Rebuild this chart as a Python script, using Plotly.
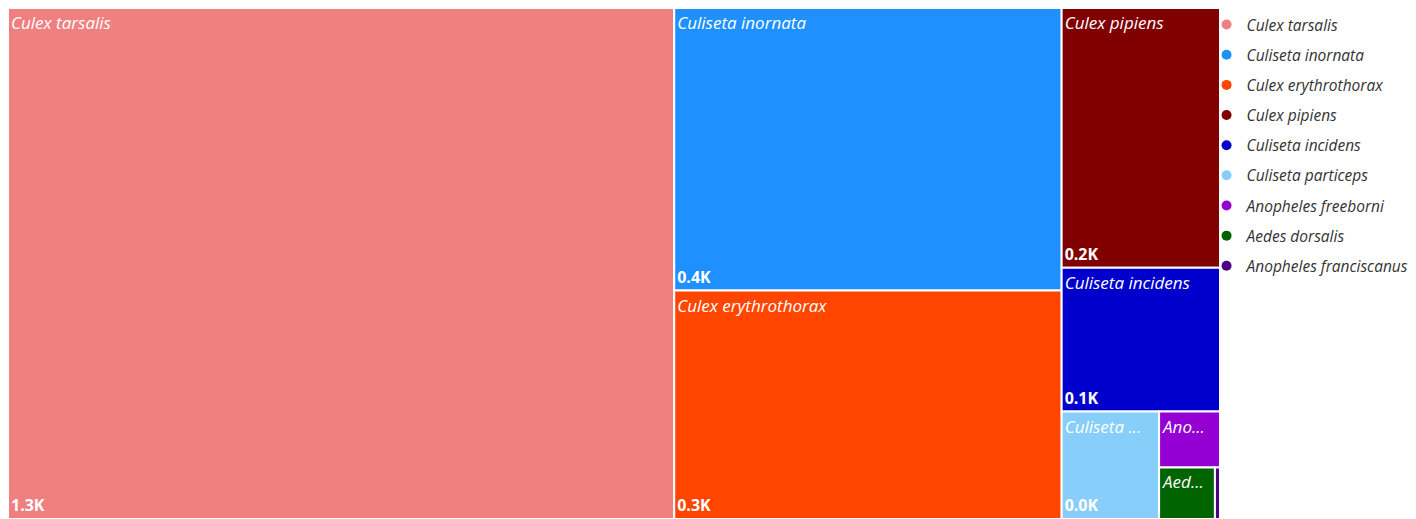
import plotly.graph_objects as go

species = ["Culex tarsalis", "Culiseta inornata", "Culex erythrothorax", "Culex pipiens",
           "Culiseta incidens", "Culiseta particeps", "Anopheles freeborni", "Aedes dorsalis",
           "Anopheles franciscanus"]
counts = [1300, 418, 338, 157, 87, 40, 13, 11, 1]
display_labels = ["Culex tarsalis", "Culiseta inornata", "Culex erythrothorax", "Culex pipiens",
                  "Culiseta incidens", "Culiseta ...", "Ano...", "Aed...", ""]
show_value = [True, True, True, True, True, True, False, False, False]
colors = ["#F08080", "#1E90FF", "#FF4500", "#800000", "#0000CD", "#87CEFA",
          "#9400D3", "#006400", "#4B0082"]

ROOT = "All species"
value_text = [f"{v/1000:.1f}K" if s else "" for v, s in zip(counts, show_value)]

ids = [ROOT] + species
parents = [""] + [ROOT] * len(species)
vals = [0] + counts

FONT = "Open Sans, Noto Sans, DejaVu Sans, sans-serif"
NOPAD = dict(t=0, l=0, r=0, b=0)

fig = go.Figure()

fig.add_trace(go.Treemap(
    labels=ids, parents=parents, values=vals,
    text=[""] + display_labels,
    texttemplate="<i>%{text}</i>", textposition="top left",
    textfont=dict(family=FONT, size=17, color="white"),
    marker=dict(colors=["white"] + colors, line=dict(color="white", width=2), pad=NOPAD),
    tiling=dict(packing="squarify", pad=0),
    domain=dict(x=[0, 1], y=[0, 1]),
    sort=True, pathbar=dict(visible=False),
    hoverinfo="skip",
))
fig.add_trace(go.Treemap(
    labels=ids, parents=parents, values=vals,
    text=[""] + value_text,
    texttemplate="<b>%{text}</b>", textposition="bottom left",
    textfont=dict(family=FONT, size=16, color="white"),
    marker=dict(colors=["rgba(0,0,0,0)"] * len(ids), line=dict(color="rgba(0,0,0,0)", width=2),
                pad=NOPAD),
    tiling=dict(packing="squarify", pad=0),
    domain=dict(x=[0, 1], y=[0, 1]),
    sort=True, pathbar=dict(visible=False),
    hovertemplate="%{label}: %{value}<extra></extra>",
))

for i, (name, c) in enumerate(zip(species, colors)):
    fig.add_trace(go.Scatter(
        x=[None], y=[None], mode="markers", name=name,
        marker=dict(color=c, size=10, symbol="circle"),
        legendgroup=f"g{i}", showlegend=True,
    ))

# the page body adds an 8px offset, so the figure is laid out relative to that
fig.update_layout(
    width=1416, height=519,
    margin=dict(l=0, r=204, t=0, b=8),
    paper_bgcolor="white", plot_bgcolor="white",
    xaxis=dict(visible=False), yaxis=dict(visible=False),
    legend=dict(
        x=0.9889, xanchor="left", y=1.0, yanchor="top",
        font=dict(family=FONT, size=15.5, color="#333333", style="italic"),
        tracegroupgap=7, bgcolor="rgba(0,0,0,0)",
    ),
)

fig.write_html("out.html")
